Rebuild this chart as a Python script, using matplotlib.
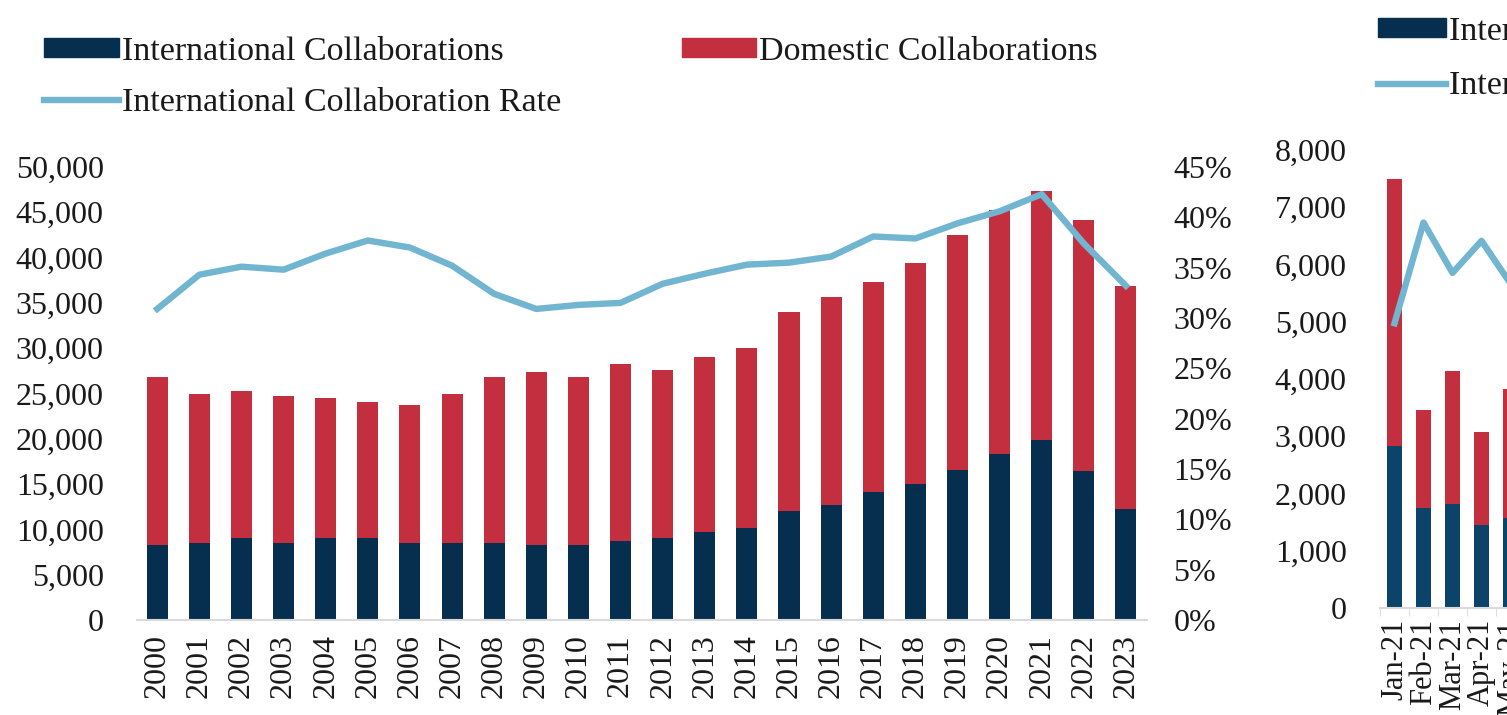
import matplotlib.pyplot as plt
from matplotlib.patches import Patch
from matplotlib.lines import Line2D
from matplotlib.ticker import FuncFormatter, MultipleLocator

plt.rcParams['font.family'] = ['Liberation Serif', 'DejaVu Serif']

# yearly data (left chart)
years = [str(y) for y in range(2000, 2024)]
intl = [8300, 8500, 9000, 8500, 9000, 9000, 8500, 8500, 8500, 8300, 8300, 8700,
        9000, 9700, 10200, 12000, 12700, 14100, 15000, 16600, 18300, 19900, 16400, 12200]
domestic = [18500, 16400, 16300, 16200, 15500, 15100, 15200, 16400, 18300, 19100, 18500, 19600,
            18600, 19300, 19800, 22000, 23000, 23200, 24400, 25900, 27000, 27500, 27700, 24700]
rate = [30.9, 34.3, 35.1, 34.8, 36.4, 37.7, 37.0, 35.2, 32.4, 30.9, 31.3, 31.5,
        33.4, 34.4, 35.3, 35.5, 36.1, 38.1, 37.9, 39.4, 40.6, 42.3, 37.4, 33.2]

# monthly data (right chart, cut off at the figure edge)
months = ['Jan-21', 'Feb-21', 'Mar-21', 'Apr-21', 'May-21']
m_intl = [2830, 1750, 1810, 1450, 1580]
m_domestic = [4670, 1700, 2330, 1630, 2250]
m_rate = [37.3, 50.5, 43.9, 48.1, 42.5]

NAVY = '#062f4f'
NAVY2 = '#0b4468'
RED = '#c32f3e'
BLUE = '#72b5d1'
TXT = '#1a1a1a'
FS = 23
LFS = 24.5

W, H = 1507, 715
fig = plt.figure(figsize=(W / 100, H / 100), dpi=100)

# ---- left chart ----
ax = fig.add_axes([137 / W, 95 / H, 1010 / W, 453 / H])
x = range(len(years))
ax.bar(x, intl, width=0.5, color=NAVY)
ax.bar(x, domestic, width=0.5, bottom=intl, color=RED)
ax.set_xlim(-0.48, 23.5)
ax.set_ylim(0, 50000)
ax.yaxis.set_major_locator(MultipleLocator(5000))
ax.yaxis.set_major_formatter(FuncFormatter(lambda v, p: f'{int(v):,}'))
ax.set_xticks(list(x))
ax.set_xticklabels(years, rotation=90)
ax.tick_params(axis='x', length=0, pad=10, labelsize=FS, colors=TXT)
ax.tick_params(axis='y', length=0, pad=24, labelsize=FS, colors=TXT)
for s in ['top', 'right', 'left']:
    ax.spines[s].set_visible(False)
ax.spines['bottom'].set_color('#d9d9d9')
ax.spines['bottom'].set_linewidth(1.5)

ax2 = ax.twinx()
ax2.plot(x, [r / 100 for r in rate], color=BLUE, lw=4.6, solid_joinstyle='round')
ax2.set_ylim(0, 0.45)
ax2.yaxis.set_major_locator(MultipleLocator(0.05))
ax2.yaxis.set_major_formatter(FuncFormatter(lambda v, p: f'{v * 100:.0f}%'))
ax2.tick_params(axis='y', length=0, pad=19, labelsize=FS, colors=TXT)
for s in ax2.spines.values():
    s.set_visible(False)

handles = [Patch(color=NAVY), Line2D([], [], color=BLUE, lw=4.6), Patch(color=RED)]
labels = ['International Collaborations', 'International Collaboration Rate',
          'Domestic Collaborations']
fig.legend(handles, labels, loc='upper left', bbox_to_anchor=(44 / W, 1 - 36 / H),
           ncol=2, frameon=False, fontsize=LFS, handlelength=2.2, handleheight=0.5,
           handletextpad=0.08, columnspacing=3.55, labelspacing=0.62, borderpad=0,
           borderaxespad=0, labelcolor=TXT)

# ---- right chart (partially visible) ----
axm = fig.add_axes([1380 / W, 107 / H, 145 / W, 458 / H])
xm = range(len(months))
axm.bar(xm, m_intl, width=0.52, color=NAVY2)
axm.bar(xm, m_domestic, width=0.52, bottom=m_intl, color=RED)
axm.set_xlim(-0.5, 4.5)
axm.set_ylim(0, 8000)
axm.yaxis.set_major_locator(MultipleLocator(1000))
axm.yaxis.set_major_formatter(FuncFormatter(lambda v, p: f'{int(v):,}'))
axm.set_xticks(list(xm))
axm.set_xticklabels(months, rotation=90)
axm.set_xticks([i - 0.5 for i in range(len(months) + 1)], minor=True)
axm.tick_params(axis='x', which='major', length=0, pad=8, labelsize=FS - 1, colors=TXT)
axm.tick_params(axis='x', which='minor', length=6, color='#d9d9d9')
axm.tick_params(axis='y', length=0, pad=24, labelsize=FS, colors=TXT)
for s in ['top', 'right', 'left']:
    axm.spines[s].set_visible(False)
axm.spines['bottom'].set_color('#d9d9d9')
axm.spines['bottom'].set_linewidth(1.5)

axm2 = axm.twinx()
axm2.plot(xm, [r / 100 for r in m_rate], color=BLUE, lw=4.6, solid_joinstyle='round')
axm2.set_ylim(0, 0.6)
axm2.set_yticks([])
for s in axm2.spines.values():
    s.set_visible(False)

fig.legend(handles[:2], labels[:2], loc='upper left', bbox_to_anchor=(1378 / W, 1 - 16 / H),
           ncol=1, frameon=False, fontsize=LFS, handlelength=2.0, handleheight=0.5,
           handletextpad=0.08, labelspacing=0.72, borderpad=0, borderaxespad=0,
           labelcolor=TXT)

fig.savefig('out.png', dpi=100, facecolor='white')
